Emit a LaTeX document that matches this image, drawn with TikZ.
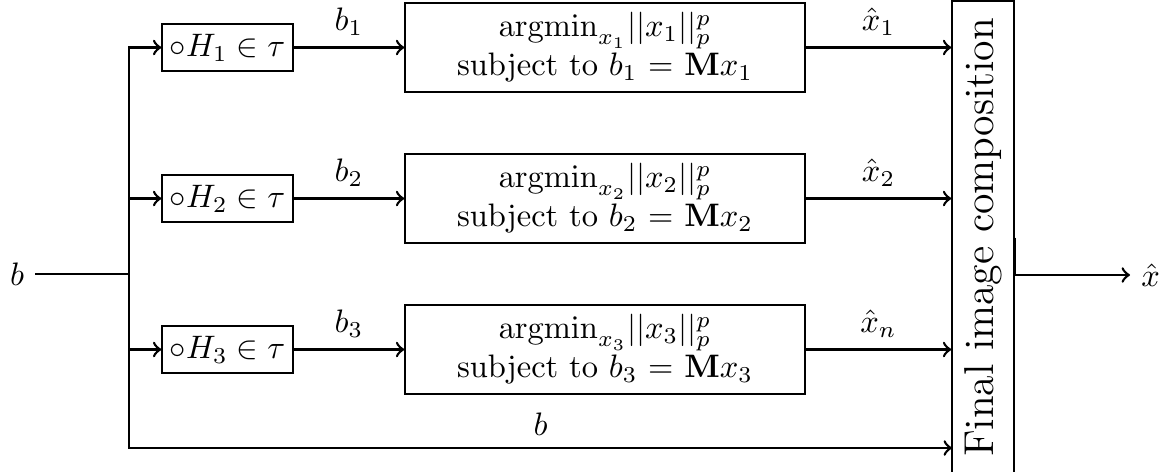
\documentclass[tikz,border=0pt]{standalone}
\usepackage{amsmath}
\begin{document}
\begin{tikzpicture}[x=0.307692pt,y=-0.307692pt,
  conn/.style={thick,->},
  wire/.style={thick},
  hbox/.style={draw,minimum width=40.3pt,minimum height=14.46pt,inner sep=0pt},
  optbox/.style={draw,minimum width=123.1pt,minimum height=27.4pt,align=center,inner sep=0pt},
  finalbox/.style={draw,minimum width=19.1pt,minimum height=145.5pt,inner sep=0pt},
  lbl/.style={inner sep=3.33pt},
]
\useasboundingbox (0,0) rectangle (1170,472);

\node[lbl] (bin) at (17,274) {$b$};
\coordinate (split) at (129,274);

\node[hbox] (h1) at (227.5,47.5) {$\circ H_1 \in \tau$};
\node[hbox] (h2) at (227.5,198.5) {$\circ H_2 \in \tau$};
\node[hbox] (h3) at (227.5,349.5) {$\circ H_3 \in \tau$};

\node[optbox] (o1) at (605,47.5) {$\mathrm{argmin}_{x_1}||x_1||_p^p$\\subject to $b_1$ = $\mathbf{M}x_1$};
\node[optbox] (o2) at (605,198.5) {$\mathrm{argmin}_{x_2}||x_2||_p^p$\\subject to $b_2$ = $\mathbf{M}x_2$};
\node[optbox] (o3) at (605,349.5) {$\mathrm{argmin}_{x_3}||x_3||_p^p$\\subject to $b_3$ = $\mathbf{M}x_3$};

\node[finalbox] (final) at (983,237.5) {\rotatebox{90}{\fontsize{12.84}{15}\selectfont Final image composition}};

\coordinate (fin3) at (952,448);
\node[lbl,anchor=west] (xhat) at (1130,275) {$\hat{x}$};

\draw[wire] (bin) -- (split);
\draw[conn] (split) |- (h1);
\draw[conn] (split) |- (h2);
\draw[conn] (split) |- (h3);
\draw[conn] (split) |- (fin3) node[pos=0.75,above] {$b$};

\draw[conn] (h1) -- node[above] {$b_1$} (o1);
\draw[conn] (h2) -- node[above] {$b_2$} (o2);
\draw[conn] (h3) -- node[above] {$b_3$} (o3);

\draw[conn] (o1) -- node[above] {$\hat{x}_1$} (o1 -| final.west);
\draw[conn] (o2) -- node[above] {$\hat{x}_2$} (o2 -| final.west);
\draw[conn] (o3) -- node[above] {$\hat{x}_n$} (o3 -| final.west);

\draw[conn] (final.east) |- (xhat);
\end{tikzpicture}
\end{document}
